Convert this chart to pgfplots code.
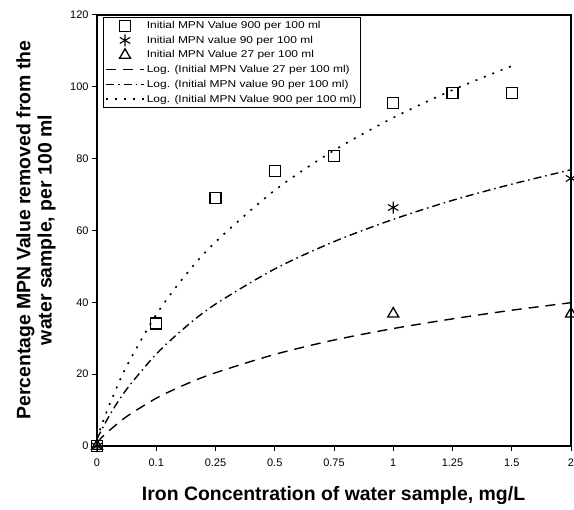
\documentclass[border=0pt]{standalone}
\usepackage{fontspec}
\setmainfont{Liberation Sans}
\newfontfamily\legfont[FakeStretch=1.2]{Liberation Sans}
\usepackage{pgfplots}
\pgfplotsset{compat=1.18}

\pgfplotsset{
  markleg/.style={legend image code/.code={%
    \draw[mark repeat=2,mark phase=2,##1] plot coordinates {(0bp,0bp) (19bp,0bp) (38bp,0bp)};}},
  lineleg/.style={legend image code/.code={%
    \draw[##1] (0bp,0bp) -- (38bp,0bp);}},
}

\begin{document}
\begin{tikzpicture}
\begin{axis}[
    width=474bp, height=431bp, scale only axis,
    xmin=0, xmax=8, ymin=0, ymax=120,
    xtick={0,...,8},
    xticklabels={0,0.1,0.25,0.5,0.75,1,1.25,1.5,2},
    ytick={0,20,...,120},
    tick pos=left, tick align=outside, major tick length=5bp,
    axis line style={line width=1.3bp},
    tick style={line width=1bp, black},
    tick label style={font=\fontsize{11}{13}\selectfont},
    xticklabel style={yshift=-4bp},
    /pgf/number format/assume math mode=true,
    xlabel={Iron Concentration of water sample, mg/L},
    xlabel style={font=\bfseries\fontsize{19.5}{22}\selectfont,
        at={(axis description cs:0.499,-0.114)}, anchor=center},
    ylabel={Percentage MPN Value removed from the\\water sample, per 100 ml},
    ylabel style={font=\bfseries\fontsize{19.5}{21.5}\selectfont, align=center,
        at={(axis description cs:-0.1287,0.501)}, anchor=center},
    clip=false,
    legend style={at={(0.0127,0.995)}, anchor=north west, draw=black,
        font=\legfont\fontsize{10}{12}\selectfont, row sep=2bp, inner sep=2bp},
    legend cell align=left,
]

% measured points
\addplot[only marks, mark=square, mark size=5.5bp, line width=1.3bp, markleg]
  coordinates {(0,0) (1,34.1) (2,69.0) (3,76.6) (4,80.7) (5,95.5) (6,98.3) (7,98.3)};
\addplot[only marks, mark=asterisk, mark size=6bp, line width=1.1bp, markleg]
  coordinates {(0,0) (5,66.4) (8,74.5)};
\addplot[only marks, mark=triangle, mark size=6.3bp, line width=1.3bp, markleg]
  coordinates {(0,0) (5,36.8) (8,36.8)};

% log trend lines
\addplot[smooth, line width=1.4bp, dash pattern=on 10bp off 7bp, lineleg]
  coordinates {(0,1) (0.1,2.7) (0.25,4.9) (0.5,8.2) (1,13.3) (1.5,17.2) (2,20.4)
               (3,25.5) (4,29.5) (5,32.7) (6,35.4) (7,37.8) (8,39.9)};
\addplot[smooth, line width=1.4bp, dash pattern=on 8bp off 4bp on 1.5bp off 4bp, lineleg]
  coordinates {(0,2) (0.1,5.2) (0.25,9.6) (0.5,15.8) (1,25.6) (1.5,33.2) (2,39.5)
               (3,49.3) (4,56.9) (5,63.1) (6,68.4) (7,72.9) (8,76.9)};
\addplot[smooth, line width=1.6bp, dash pattern=on 2bp off 7bp, lineleg]
  coordinates {(0,2) (0.1,6.8) (0.25,13.1) (0.5,22.2) (1,36.6) (1.5,47.7) (2,56.8)
               (3,71.2) (4,82.3) (5,91.4) (6,99.1) (7,105.8)};

\legend{Initial MPN Value 900 per 100 ml,
        Initial MPN value 90 per 100 ml,
        Initial MPN Value 27 per 100 ml,
        Log. (Initial MPN Value 27 per 100 ml),
        Log. (Initial MPN value 90 per 100 ml),
        Log. (Initial MPN Value 900 per 100 ml)}
\end{axis}
% page size as in the reference: 97 left, 3 right, 15 above, 63 below the axis box
\pgfresetboundingbox
\path ([shift={(-97bp,-63bp)}]current axis.south west)
      rectangle ([shift={(3bp,15bp)}]current axis.north east);
\end{tikzpicture}
\end{document}
